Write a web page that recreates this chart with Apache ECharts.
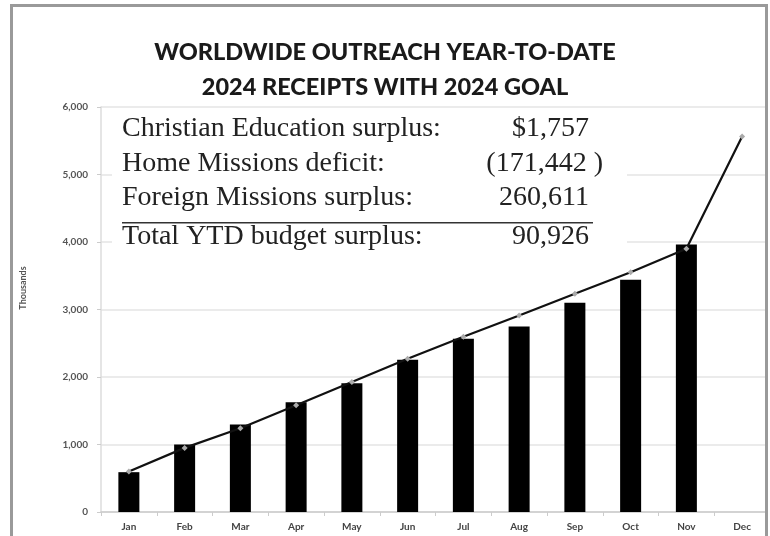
<!DOCTYPE html>
<html lang="en">
<head>
    <meta charset="UTF-8">
    <script src="https://cdn.jsdelivr.net/npm/echarts@6/dist/echarts.min.js"></script>
    <title>Worldwide Outreach</title>
    <style>
        html, body { margin: 0; padding: 0; background: #fff; }
    </style>
</head>
<body>
    <div id="main" style="width: 770px;height:536px;"></div>

    <script type="text/javascript">
        // chart data
        var months = ['Jan', 'Feb', 'Mar', 'Apr', 'May', 'Jun', 'Jul', 'Aug', 'Sep', 'Oct', 'Nov', 'Dec'];
        var receipts = [590, 1000, 1296, 1627, 1908, 2255, 2566, 2748, 3099, 3440, 3963, null];
        var goal = [600, 950, 1240, 1580, 1925, 2270, 2595, 2910, 3232, 3553, 3900, 5563];
        var yTicks = [0, 1000, 2000, 3000, 4000, 5000, 6000];

        // summary text box
        var summaryLabels = ['Christian Education surplus:', 'Home Missions deficit:', 'Foreign Missions surplus:', 'Total YTD budget surplus:'];
        var summaryValues = ['$1,757', '(171,442 )', '260,611', '90,926'];

        var serif = "'Liberation Serif', 'DejaVu Serif', serif";
        var sans = "Lato, 'Open Sans', sans-serif";

        var lineY = [129, 164, 198, 237];
        var graphics = [
            // white box behind the summary (hides grid lines)
            { type: 'rect', z: 50, shape: { x: 112, y: 112, width: 515, height: 148 }, style: { fill: '#fff' } },
            // underline above total
            { type: 'line', z: 51, shape: { x1: 122, y1: 222.7, x2: 593, y2: 222.7 }, style: { stroke: '#333', lineWidth: 1.5 } },
            // hide grid overflow on the right of the frame
            { type: 'rect', z: 60, shape: { x: 768, y: 0, width: 20, height: 536 }, style: { fill: '#fff' } },
            // frame
            { type: 'rect', z: 61, shape: { x: 11.5, y: 5.5, width: 755, height: 600 }, style: { fill: 'none', stroke: '#9a9a9a', lineWidth: 3 } },
            // axis name
            { type: 'text', z: 51, x: 23, y: 288, rotation: Math.PI / 2,
              style: { text: 'Thousands', font: 'bold 9px ' + sans, fill: '#555', align: 'center', verticalAlign: 'middle' } }
        ];
        for (var i = 0; i < summaryLabels.length; i++) {
            graphics.push({ type: 'text', z: 52, x: 122, y: lineY[i],
                style: { text: summaryLabels[i], font: '28px ' + serif, fill: '#222', align: 'left', verticalAlign: 'middle' } });
            var neg = summaryValues[i].charAt(0) === '(';
            graphics.push({ type: 'text', z: 52, x: neg ? 603 : 589, y: lineY[i],
                style: { text: summaryValues[i], font: '28px ' + serif, fill: '#222', align: 'right', verticalAlign: 'middle' } });
        }

        var myChart = echarts.init(document.getElementById('main'));
        myChart.setOption({
            animation: false,
            backgroundColor: '#fff',
            title: {
                text: 'WORLDWIDE OUTREACH YEAR-TO-DATE\n2024 RECEIPTS WITH 2024 GOAL',
                left: 'center',
                top: 30,
                textStyle: { fontFamily: sans, fontWeight: 900, fontSize: 23.5, lineHeight: 35, color: '#1a1a1a' }
            },
            grid: { left: 101, top: 107, width: 680, height: 405 },
            xAxis: {
                type: 'category',
                data: months,
                axisLine: { lineStyle: { color: '#ccc', width: 1.5 } },
                axisTick: { show: true, length: 4, lineStyle: { color: '#ccc' } },
                axisLabel: { color: '#444', fontFamily: sans, fontWeight: 'bold', fontSize: 10, margin: 10 }
            },
            yAxis: {
                type: 'value',
                min: yTicks[0],
                max: yTicks[yTicks.length - 1],
                interval: 1000,
                axisLine: { show: true, lineStyle: { color: '#ddd', width: 1.5 } },
                axisTick: { show: true, length: 4, lineStyle: { color: '#ccc' } },
                splitLine: { lineStyle: { color: '#e4e4e4', width: 1.5 } },
                axisLabel: {
                    color: '#555', fontFamily: sans, fontWeight: 'bold', fontSize: 10, margin: 13,
                    formatter: function (v) { return v.toLocaleString('en-US'); }
                }
            },
            series: [{
                type: 'bar',
                data: receipts,
                barWidth: 21,
                itemStyle: { color: '#000' }
            }, {
                type: 'line',
                data: goal,
                symbol: 'diamond',
                symbolSize: 6,
                showAllSymbol: true,
                itemStyle: { color: '#aaa' },
                lineStyle: { color: '#111', width: 2.2 },
                z: 3
            }],
            graphic: graphics
        });
    </script>
</body>
</html>
